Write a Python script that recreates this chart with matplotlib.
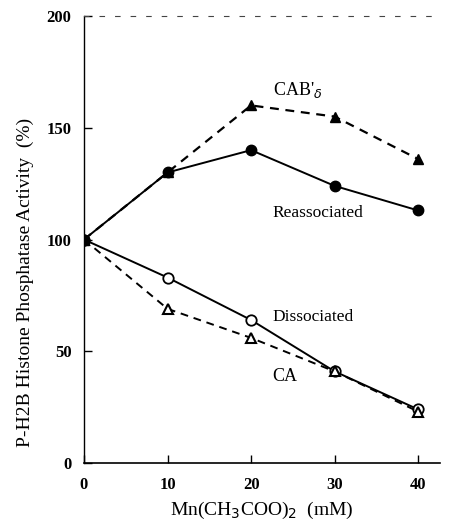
import matplotlib
matplotlib.use("Agg")
import matplotlib.pyplot as plt

mn = [0, 10, 20, 30, 40]
cab_delta = [100, 130, 160, 155, 136]
reassociated = [100, 130, 140, 124, 113]
dissociated = [100, 83, 64, 41, 24]
ca = [100, 69, 56, 41, 23]

xticks = [0, 10, 20, 30, 40]
yticks = [0, 50, 100, 150, 200]

plt.rcParams['font.family'] = ['Liberation Serif', 'DejaVu Serif']

fig = plt.figure(figsize=(4.53, 5.25), dpi=100)
ax = fig.add_axes([0.1854, 0.118, 0.7856, 0.8515])

ax.plot(mn, dissociated, color='black', linestyle='-', linewidth=1.4,
        marker='o', markersize=7.5, markerfacecolor='white', markeredgecolor='black',
        markeredgewidth=1.3)
ax.plot(mn, ca, color='black', linestyle=(0, (4, 3)), linewidth=1.4,
        marker='^', markersize=7, markerfacecolor='white', markeredgecolor='black',
        markeredgewidth=1.5)
ax.plot(mn, cab_delta, color='black', linestyle=(0, (4, 3)), linewidth=1.6,
        marker='^', markersize=7, markerfacecolor='black', markeredgecolor='black')
ax.plot(mn, reassociated, color='black', linestyle='-', linewidth=1.4,
        marker='o', markersize=7.5, markerfacecolor='black', markeredgecolor='black')

ax.set_xlim(0, 42.6)
ax.set_ylim(0, 200)
ax.set_xticks(xticks)
ax.set_yticks(yticks)
ax.set_xticklabels([str(v) for v in xticks], fontsize=12, fontweight='bold')
ax.set_yticklabels([str(v) for v in yticks], fontsize=12, fontweight='bold')
ax.tick_params(direction='in', length=6, width=1, pad=9)
ax.tick_params(axis='x', pad=10)

ax.spines['right'].set_visible(False)
ax.spines['top'].set_linestyle((0, (4, 10)))
ax.spines['top'].set_linewidth(0.8)
ax.spines['top'].set_color('#444444')
ax.spines['left'].set_linewidth(1.0)
ax.spines['bottom'].set_linewidth(1.2)

ax.set_ylabel('P-H2B Histone Phosphatase Activity  (%)', fontsize=14, labelpad=10)
ax.yaxis.set_label_coords(-0.14, 0.405)
ax.set_xlabel('Mn(CH$_3$COO)$_2$  (mM)', fontsize=14, labelpad=5)

ax.text(22.6, 167, "CAB'$_\\delta$", fontsize=13, ha='left', va='center')
ax.text(22.6, 112, "Reassociated", fontsize=12.5, ha='left', va='center')
ax.text(22.6, 65.5, "Dissociated", fontsize=12.5, ha='left', va='center')
ax.text(24.0, 38.5, "CA", fontsize=13, ha='center', va='center')

fig.savefig('out.png', dpi=100)
